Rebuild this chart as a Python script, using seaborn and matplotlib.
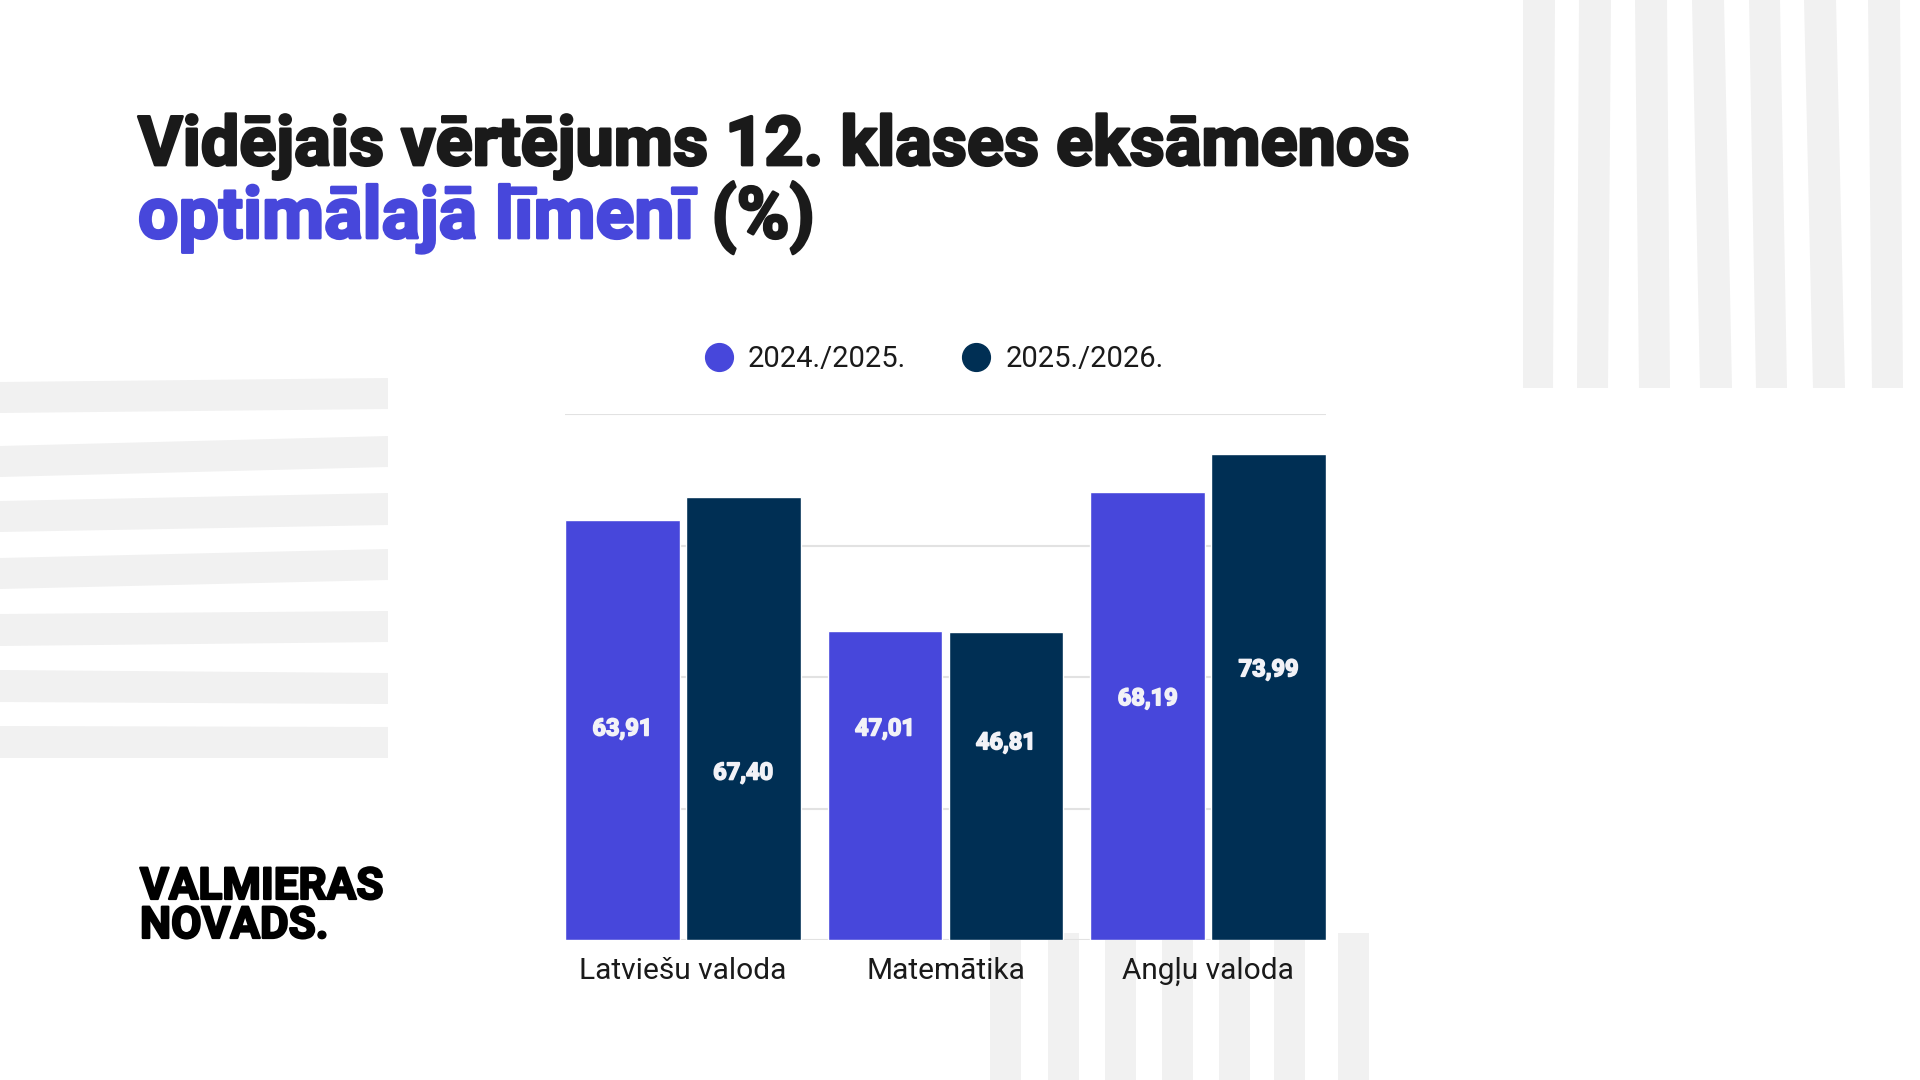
import pandas as pd
import matplotlib
matplotlib.use("Agg")
import matplotlib.pyplot as plt
import matplotlib.patheffects as pe
import seaborn as sns
from matplotlib.patches import Polygon
from matplotlib.lines import Line2D

# --- Data ---
categories = ["Latviešu valoda", "Matemātika", "Angļu valoda"]
years = ["2024./2025.", "2025./2026."]
values_2024_25 = [63.91, 47.01, 68.19]
values_2025_26 = [67.40, 46.81, 73.99]

# --- Style ---
BLUE = "#4747DB"
NAVY = "#002F54"
DARK = "#1a1a1a"
STRIPE = "#f1f1f1"
W, H = 1920, 1080
HEAVY = ["Roboto", "DejaVu Sans"]

df = pd.DataFrame({
    "subject": categories * 2,
    "year": [years[0]] * 3 + [years[1]] * 3,
    "value": values_2024_25 + values_2025_26,
})

sns.set_theme(style="white")
plt.rcParams["font.family"] = ["Roboto", "DejaVu Sans"]

fig = plt.figure(figsize=(19.2, 10.8), dpi=100)
fig.patch.set_facecolor("white")


def px(x, y):
    # pixel coords (origin top-left) -> figure fraction
    return (x / W, 1 - y / H)


def fit_width(txt, target_px):
    # scale a text's fontsize so it spans target_px
    fig.canvas.draw()
    w = txt.get_window_extent().width
    txt.set_fontsize(txt.get_fontsize() * target_px / w)


def bolder(color, lw=2.0):
    # fake an extra-black weight by stroking the glyphs
    return [pe.withStroke(linewidth=lw, foreground=color)]


# --- Decorative stripes ---
left_stripes = [(382, 413, 378, 409), (446, 477, 436, 467), (501, 532, 493, 525),
                (558, 589, 549, 580), (614, 646, 611, 642), (670, 702, 673, 704),
                (726, 758, 727, 758)]
for lt, lb, rt, rb in left_stripes:
    pts = [px(0, lt), px(388, rt), px(388, rb), px(0, lb)]
    fig.add_artist(Polygon(pts, closed=True, transform=fig.transFigure,
                           facecolor=STRIPE, edgecolor="none", zorder=-5))

top_stripes = [(1523, 1555, 1523, 1553), (1579, 1611, 1577, 1608), (1635, 1667, 1639, 1670),
               (1692, 1724, 1700, 1732), (1749, 1780, 1756, 1787), (1804, 1836, 1813, 1845),
               (1868, 1900, 1872, 1903)]
for tl, tr, bl, br in top_stripes:
    pts = [px(tl, 0), px(tr, 0), px(br, 388), px(bl, 388)]
    fig.add_artist(Polygon(pts, closed=True, transform=fig.transFigure,
                           facecolor=STRIPE, edgecolor="none", zorder=-5))

bottom_stripes = [990, 1048, 1105, 1162, 1219, 1274, 1338]
for x0 in bottom_stripes:
    pts = [px(x0, 933), px(x0 + 31, 933), px(x0 + 31, 1080), px(x0, 1080)]
    fig.add_artist(Polygon(pts, closed=True, transform=fig.transFigure,
                           facecolor=STRIPE, edgecolor="none", zorder=-5))

# --- Chart ---
ax = fig.add_axes([565 / W, 1 - 940 / H, (1326 - 565) / W, (940 - 414) / H])
ax.set_facecolor("none")
sns.barplot(data=df, x="subject", y="value", hue="year", palette=[BLUE, NAVY],
            width=0.92, gap=0.05, saturation=1, legend=False, ax=ax, zorder=3)

ax.set_xlim(-0.4485, 2.4485)
ax.set_ylim(0, 80)
ax.set_yticks([0, 20, 40, 60, 80])
ax.set_yticklabels([])
ax.yaxis.grid(True, color="#e2e2e2", linewidth=1.5, zorder=0)
ax.set_axisbelow(True)
for s in ax.spines.values():
    s.set_visible(False)
ax.set_xlabel("")
ax.set_ylabel("")
ax.tick_params(axis="x", length=0, pad=12, labelsize=21.5, labelcolor=DARK)
ax.tick_params(axis="y", length=0)

# value labels (vertical placement as in the original)
label_y = [[32.1, 32.1, 36.7], [25.4, 30.0, 41.1]]
for ci, cont in enumerate(ax.containers):
    for bi, bar in enumerate(cont):
        v = bar.get_height()
        ax.text(bar.get_x() + bar.get_width() / 2, label_y[ci][bi],
                f"{v:.2f}".replace(".", ","), ha="center", va="center",
                color="#f2f2f7", fontsize=17, fontweight="bold",
                family=HEAVY, zorder=5, path_effects=bolder("#f2f2f7", 1.2))

# --- Legend ---
handles = [Line2D([0], [0], marker="o", linestyle="none", markersize=20,
                  markerfacecolor=c, markeredgecolor=c) for c in (BLUE, NAVY)]
fig.legend(handles, years, loc="center", bbox_to_anchor=px(931, 359), ncol=2,
           frameon=False, fontsize=21, handlelength=1.4, handletextpad=0.3,
           columnspacing=1.7, labelcolor=DARK)

# --- Title ---
t1 = fig.text(*px(138, 165), "Vidējais vērtējums 12. klases eksāmenos", fontsize=43,
              fontweight="bold", color=DARK, family=HEAVY, va="baseline",
              path_effects=bolder(DARK))
fit_width(t1, 1273)
tsize = t1.get_fontsize()
t2 = fig.text(*px(138, 238), "optimālajā līmenī", fontsize=tsize,
              fontweight="bold", color=BLUE, family=HEAVY, va="baseline",
              path_effects=bolder(BLUE))
fit_width(t2, 556)
fig.canvas.draw()
bb = t2.get_window_extent()
fig.text(bb.x1 / W, 1 - 238 / H, " (%)", fontsize=t2.get_fontsize(),
         fontweight="bold", color=DARK, family=HEAVY, va="baseline",
         path_effects=bolder(DARK))

# --- Logo ---
l1 = fig.text(*px(140, 899), "VALMIERAS", fontsize=30, fontweight="bold",
              color="black", family=HEAVY, va="baseline",
              path_effects=bolder("black", 1.6))
fit_width(l1, 243)
fig.text(*px(140, 938), "NOVADS.", fontsize=l1.get_fontsize(), fontweight="bold",
         color="black", family=HEAVY, va="baseline",
         path_effects=bolder("black", 1.6))

fig.savefig("out.png", dpi=100, facecolor="white")
